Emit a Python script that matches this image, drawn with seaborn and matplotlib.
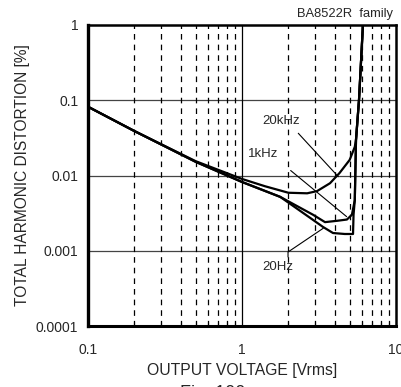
import numpy as np
import pandas as pd
import matplotlib
matplotlib.use("Agg")
import matplotlib.pyplot as plt
from matplotlib.ticker import LogLocator, NullFormatter, FixedLocator
import seaborn as sns

# ---- data ----
x_20k = [0.1, 0.2, 0.5, 1.0, 1.41, 2.0, 2.65, 3.07, 3.73, 4.3, 5.0, 5.4, 5.5, 5.75, 6.1]
y_20k = [0.082, 0.039, 0.0155, 0.0090, 0.0072, 0.0059, 0.0058, 0.0062, 0.0079, 0.0108, 0.0161, 0.024, 0.030, 0.1, 1.0]

x_1k = [0.1, 0.2, 0.5, 1.0, 1.77, 2.9, 3.46, 4.14, 4.8, 5.17, 5.4, 5.5, 5.75, 6.1]
y_1k = [0.082, 0.039, 0.0152, 0.0082, 0.0052, 0.0030, 0.0024, 0.0025, 0.0026, 0.0030, 0.0047, 0.030, 0.1, 1.0]

x_20 = [0.1, 0.2, 0.5, 1.0, 1.77, 2.9, 3.36, 3.9, 4.65, 5.26, 5.3, 5.4, 5.5, 5.75, 6.1]
y_20 = [0.082, 0.039, 0.0152, 0.0082, 0.0052, 0.00256, 0.00207, 0.00172, 0.00167, 0.00167, 0.003, 0.0047, 0.030, 0.1, 1.0]

x_ticks = [0.1, 1, 10]
x_tick_labels = ["0.1", "1", "10"]
y_ticks = [0.0001, 0.001, 0.01, 0.1, 1]
y_tick_labels = ["0.0001", "0.001", "0.01", "0.1", "1"]

labels = ["20kHz", "1kHz", "20Hz"]
label_pos = [(1.79, 0.053), (1.38, 0.0193), (1.71, 0.000608)]
leader_x = [[2.32, 4.22], [2.07, 4.78], [1.99, 1.99, 3.37]]
leader_y = [[0.0364, 0.00964], [0.01165, 0.00284], [0.000826, 0.000962, 0.00199]]

df = pd.concat([
    pd.DataFrame({"V": x_20k, "THD": y_20k, "freq": "20kHz"}),
    pd.DataFrame({"V": x_1k, "THD": y_1k, "freq": "1kHz"}),
    pd.DataFrame({"V": x_20, "THD": y_20, "freq": "20Hz"}),
], ignore_index=True)

sns.set_style("white")
plt.rcParams["font.family"] = ["Liberation Sans", "DejaVu Sans"]

fig = plt.figure(figsize=(4.01, 3.87), dpi=100)
ax = fig.add_axes([88 / 401, 1 - 326 / 387, 308 / 401, 301 / 387])

sns.lineplot(data=df, x="V", y="THD", hue="freq", units="freq", estimator=None,
             sort=False, palette=["black", "black", "black"], linewidth=1.6,
             legend=False, ax=ax, zorder=5)

ax.set_xscale("log")
ax.set_yscale("log")
ax.set_xlim(0.1, 10)
ax.set_ylim(0.0001, 1)

ax.xaxis.set_major_locator(FixedLocator(x_ticks))
ax.set_xticklabels(x_tick_labels)
ax.xaxis.set_minor_locator(LogLocator(base=10, subs=np.arange(2, 10)))
ax.xaxis.set_minor_formatter(NullFormatter())
ax.yaxis.set_major_locator(FixedLocator(y_ticks))
ax.set_yticklabels(y_tick_labels)
ax.yaxis.set_minor_locator(FixedLocator([]))

# grid
ax.grid(False)
for yv in y_ticks[1:-1]:
    ax.axhline(yv, color="#444444", lw=0.9, zorder=1)
ax.axvline(1, color="black", lw=0.9, zorder=1)
for d in [0.1, 1]:
    for s in range(2, 10):
        ax.axvline(d * s, color="black", lw=0.9, ls=(0, (4.5, 4)), zorder=1)

ax.tick_params(axis="x", which="major", direction="in", length=0, pad=12, labelsize=10)
ax.tick_params(axis="x", which="minor", direction="in", length=3, width=0.8, bottom=True)
ax.tick_params(axis="y", which="major", direction="in", length=0, pad=7, labelsize=10)

for side, sp in ax.spines.items():
    sp.set_color("black")
    sp.set_linewidth(1.8)
ax.spines["left"].set_linewidth(2.4)
ax.spines["bottom"].set_linewidth(2.2)

ax.set_xlabel("OUTPUT VOLTAGE [Vrms]", fontsize=11.3, labelpad=4.5)
ax.set_ylabel("TOTAL HARMONIC DISTORTION [%]", fontsize=11.2, labelpad=4)

for lab, (lx, ly), xs, ys in zip(labels, label_pos, leader_x, leader_y):
    ax.text(lx, ly, lab, fontsize=9.5, ha="center", va="center", zorder=6)
    ax.plot(xs, ys, color="black", lw=0.8, zorder=4)

ax.text(0.99, 1.037, "BA8522R  family", transform=ax.transAxes, ha="right",
        va="center", fontsize=9.3)

fig.text(213 / 401, 1 - 385 / 387, "Fig. 100", ha="center", va="top", fontsize=13)

fig.savefig("out.png", dpi=100)
